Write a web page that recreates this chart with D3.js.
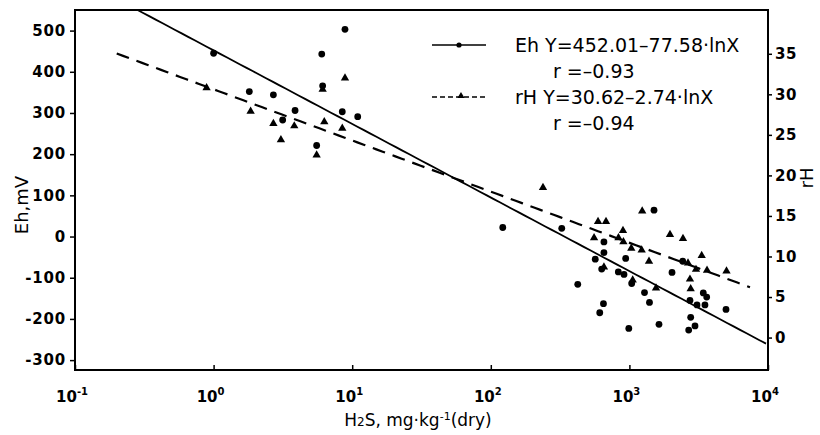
<html>
<head>
<meta charset="utf-8">
<style>
  body { margin: 0; background: #fff; font-family: "DejaVu Sans", sans-serif; }
  .tick text { font-family: "DejaVu Sans", sans-serif; }
</style>
</head>
<body>
<div id="chart"></div>
<script src="https://cdn.jsdelivr.net/npm/d3@7"></script>
<script>
// H2S (mg/kg dry) vs Eh (mV) - circles
var ehX = [1.0, 1.81, 2.7, 3.87, 3.15, 6.03, 8.87, 6.12, 8.48, 10.96, 5.54,
  122, 325, 655, 655, 567, 631, 940, 832, 914, 1039, 424, 1285, 1396, 650, 611, 990,
  1505, 1635, 2030, 2425, 2735, 2768, 2974, 2678, 3075, 3509, 3413, 3612, 4977];
var ehY = [445, 352, 344, 306, 283, 443, 503, 366, 303, 291, 221,
  22, 20, -13, -39, -55, -79, -53, -86, -92, -114, -116, -136, -160, -163, -185, -223,
  64, -213, -87, -60, -155, -196, -217, -227, -166, -166, -137, -147, -177];

// H2S vs rH - triangles
var rhX = [0.89, 1.85, 2.7, 3.82, 3.06, 6.29, 8.87, 8.48, 5.54, 6.12,
  238, 594, 678, 556, 899, 834, 905, 1032, 1226, 1237, 655, 1056, 1385,
  1963, 2436, 3324, 3023, 2735, 2768, 3631, 5019, 2647, 1556];
var rhY = [30.8, 27.9, 26.4, 26.1, 24.4, 26.6, 32.0, 25.8, 22.5, 30.6,
  18.5, 14.3, 14.3, 12.3, 13.2, 12.3, 11.8, 11.0, 10.8, 15.6, 8.7, 7.1, 9.4,
  12.7, 12.2, 10.1, 8.4, 7.2, 6.0, 8.3, 8.2, 9.2, 6.1];

// regression lines Y = a - b*lnX, drawn over xFrom..xTo
var ehFit = [452.01, 77.58, 0.2, 9674];
var rhFit = [30.62, 2.74, 0.2, 7413];

var xTicks = [0.1, 1, 10, 100, 1000, 10000];
var xExp = ["-1", "0", "1", "2", "3", "4"];
var ehTicks = [-300, -200, -100, 0, 100, 200, 300, 400, 500];
var rhTicks = [0, 5, 10, 15, 20, 25, 30, 35];

var legendRows = ["Eh Y=452.01–77.58·lnX", "r =–0.93", "rH Y=30.62–2.74·lnX", "r =–0.94"];

var width = 820, height = 435;
var mLeft = 75, mRight = 768, mTop = 10, mBottom = 370;

var svg = d3.select("#chart").append("svg")
  .attr("width", width)
  .attr("height", height);

var x = d3.scaleLog().domain([0.1, 10000]).range([mLeft, mRight]);
var yEh = d3.scaleLinear().domain([-324, 550]).range([mBottom, mTop]);
var yRh = d3.scaleLinear().domain([-4, 40.4]).range([mBottom, mTop]);

svg.append("clipPath").attr("id", "plot")
  .append("rect").attr("x", mLeft).attr("y", mTop)
  .attr("width", mRight - mLeft).attr("height", mBottom - mTop);

// frame
svg.append("rect")
  .attr("x", mLeft).attr("y", mTop)
  .attr("width", mRight - mLeft).attr("height", mBottom - mTop)
  .attr("fill", "none").attr("stroke", "#000").attr("stroke-width", 2);

// left axis
var gl = svg.append("g").attr("transform", "translate(" + mLeft + ",0)")
  .call(d3.axisLeft(yEh).tickValues(ehTicks).tickSize(5).tickPadding(4)
    .tickFormat(function(d) { return d; }));
gl.select(".domain").remove();
gl.selectAll("line").attr("stroke-width", 1.5);
gl.selectAll("text").attr("font-size", 15).attr("font-weight", "bold")
  .attr("letter-spacing", 0.8);

// right axis
var gr = svg.append("g").attr("transform", "translate(" + mRight + ",0)")
  .call(d3.axisRight(yRh).tickValues(rhTicks).tickSize(4).tickPadding(3));
gr.select(".domain").remove();
gr.selectAll("line").attr("stroke-width", 1.5);
gr.selectAll("text").attr("font-size", 15).attr("font-weight", "bold")
  .attr("letter-spacing", 0.5);

// bottom axis, ticks pointing in
var gb = svg.append("g").attr("transform", "translate(0," + mBottom + ")")
  .call(d3.axisBottom(x).tickValues(xTicks).tickSize(-5).tickFormat(""));
gb.select(".domain").remove();
gb.selectAll("line").attr("stroke-width", 1.5);

var xl = svg.append("g").selectAll("text")
  .data(xTicks)
  .enter()
  .append("text")
  .attr("x", function(d) { return x(d) - 3; })
  .attr("y", 402)
  .attr("text-anchor", "middle")
  .attr("font-size", 15)
  .attr("font-weight", "bold");
xl.append("tspan").text("10");
xl.append("tspan")
  .attr("dy", -7)
  .attr("font-size", 10)
  .text(function(d, i) { return xExp[i]; });

// axis titles
var xt = svg.append("text")
  .attr("x", 418).attr("y", 426)
  .attr("text-anchor", "middle")
  .attr("font-size", 17);
xt.append("tspan").text("H");
xt.append("tspan").attr("font-size", 12).text("2");
xt.append("tspan").text("S, mg·kg");
xt.append("tspan").attr("dy", -6).attr("font-size", 11).text("-1");
xt.append("tspan").attr("dy", 6).text("(dry)");

svg.append("text")
  .attr("transform", "translate(28,205) rotate(-90)")
  .attr("text-anchor", "middle")
  .attr("font-size", 18)
  .text("Eh,mV");

svg.append("text")
  .attr("transform", "translate(813,178) rotate(-90)")
  .attr("text-anchor", "middle")
  .attr("font-size", 18)
  .text("rH");

// fit lines
function fitLine(f) {
  var xs = d3.range(0, 101).map(function(i) {
    return Math.exp(Math.log(f[2]) + (Math.log(f[3]) - Math.log(f[2])) * i / 100);
  });
  return xs.map(function(v) { return [v, f[0] - f[1] * Math.log(v)]; });
}

var plot = svg.append("g").attr("clip-path", "url(#plot)");

plot.append("path")
  .datum(fitLine(ehFit))
  .attr("d", d3.line().x(function(d) { return x(d[0]); }).y(function(d) { return yEh(d[1]); }))
  .attr("fill", "none").attr("stroke", "#000").attr("stroke-width", 1.8);

plot.append("path")
  .datum(fitLine(rhFit))
  .attr("d", d3.line().x(function(d) { return x(d[0]); }).y(function(d) { return yRh(d[1]); }))
  .attr("fill", "none").attr("stroke", "#000").attr("stroke-width", 2.2)
  .attr("stroke-dasharray", "13,8");

// points
plot.append("g").selectAll("circle")
  .data(ehX)
  .enter()
  .append("circle")
  .attr("cx", function(d) { return x(d); })
  .attr("cy", function(d, i) { return yEh(ehY[i]); })
  .attr("r", 3.4)
  .attr("fill", "#000");

var tri = d3.symbol().type(d3.symbolTriangle).size(30);
plot.append("g").selectAll("path")
  .data(rhX)
  .enter()
  .append("path")
  .attr("d", tri)
  .attr("transform", function(d, i) { return "translate(" + x(d) + "," + yRh(rhY[i]) + ")"; })
  .attr("fill", "#000");

// legend
var lg = svg.append("g");
lg.selectAll("text")
  .data(legendRows)
  .enter()
  .append("text")
  .attr("x", function(d, i) { return i % 2 ? 553 : 515; })
  .attr("y", function(d, i) { return 52 + i * 26; })
  .attr("font-size", 19)
  .text(function(d) { return d; });

lg.append("line").attr("x1", 432).attr("x2", 486).attr("y1", 45).attr("y2", 45)
  .attr("stroke", "#000").attr("stroke-width", 1.5);
lg.append("circle").attr("cx", 459).attr("cy", 45).attr("r", 2.6).attr("fill", "#000");
lg.append("line").attr("x1", 432).attr("x2", 486).attr("y1", 97).attr("y2", 97)
  .attr("stroke", "#000").attr("stroke-width", 1.5).attr("stroke-dasharray", "5,3");
lg.append("path").attr("d", d3.symbol().type(d3.symbolTriangle).size(22))
  .attr("transform", "translate(461,96)").attr("fill", "#000");
</script>
</body>
</html>
